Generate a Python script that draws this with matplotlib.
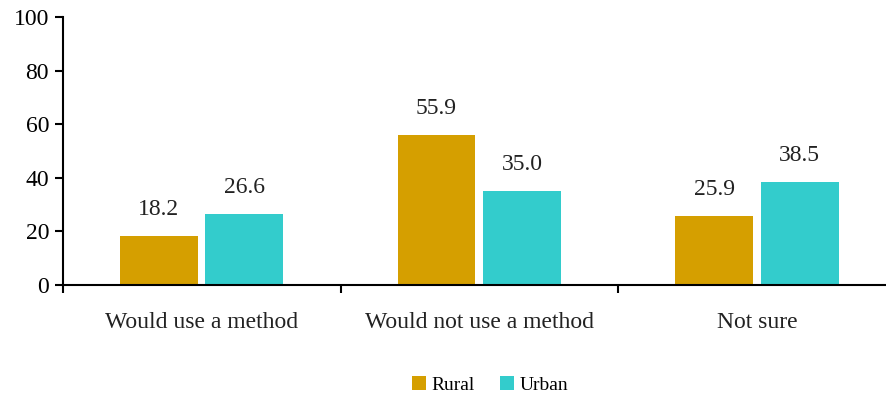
import matplotlib.pyplot as plt
import numpy as np

# Survey answers by residence (percent)
categories = ['Would use a method', 'Would not use a method', 'Not sure']
rural = [18.2, 55.9, 25.9]
urban = [26.6, 35.0, 38.5]

plt.rcParams['font.family'] = ['Liberation Serif', 'DejaVu Serif']

fig = plt.figure(figsize=(8.87, 4.0), dpi=100)
ax = fig.add_axes([63/887, 1-285/400, 833/887, 268/400])

x = np.arange(len(categories))
w = 0.28
b1 = ax.bar(x - 0.155, rural, w, color='#D59F00', label='Rural')
b2 = ax.bar(x + 0.153, urban, w, color='#33CCCC', label='Urban')

for bars, vals in ((b1, rural), (b2, urban)):
    for b, v in zip(bars, vals):
        ax.text(b.get_x() + b.get_width()/2, v + 6, f'{v:.1f}',
                ha='center', va='bottom', fontsize=17, color='#222222')

ax.set_xlim(-0.5, 2.5)
ax.set_ylim(0, 100)
ax.set_yticks(range(0, 101, 20))
ax.tick_params(axis='y', labelsize=17, length=6, width=1.5, direction='out', pad=4)

# category boundary ticks on the x axis, labels sit between them
ax.set_xticks([-0.5, 0.5, 1.5, 2.5])
ax.set_xticklabels([])
ax.tick_params(axis='x', length=6, width=1.5, direction='out')
for xi, c in zip(x, categories):
    ax.text(xi, -14, c, ha='center', va='center', fontsize=17,
            transform=ax.transData, color='#222222')

for s in ('top', 'right'):
    ax.spines[s].set_visible(False)
ax.spines['left'].set_linewidth(1.5)
ax.spines['bottom'].set_linewidth(1.5)

fig.legend(loc='center', bbox_to_anchor=(490/887, 1-385/400), ncol=2,
           frameon=False, fontsize=14, handlelength=0.7, handleheight=0.7,
           columnspacing=1.3, handletextpad=0.3)

fig.savefig('out.png', dpi=100)
